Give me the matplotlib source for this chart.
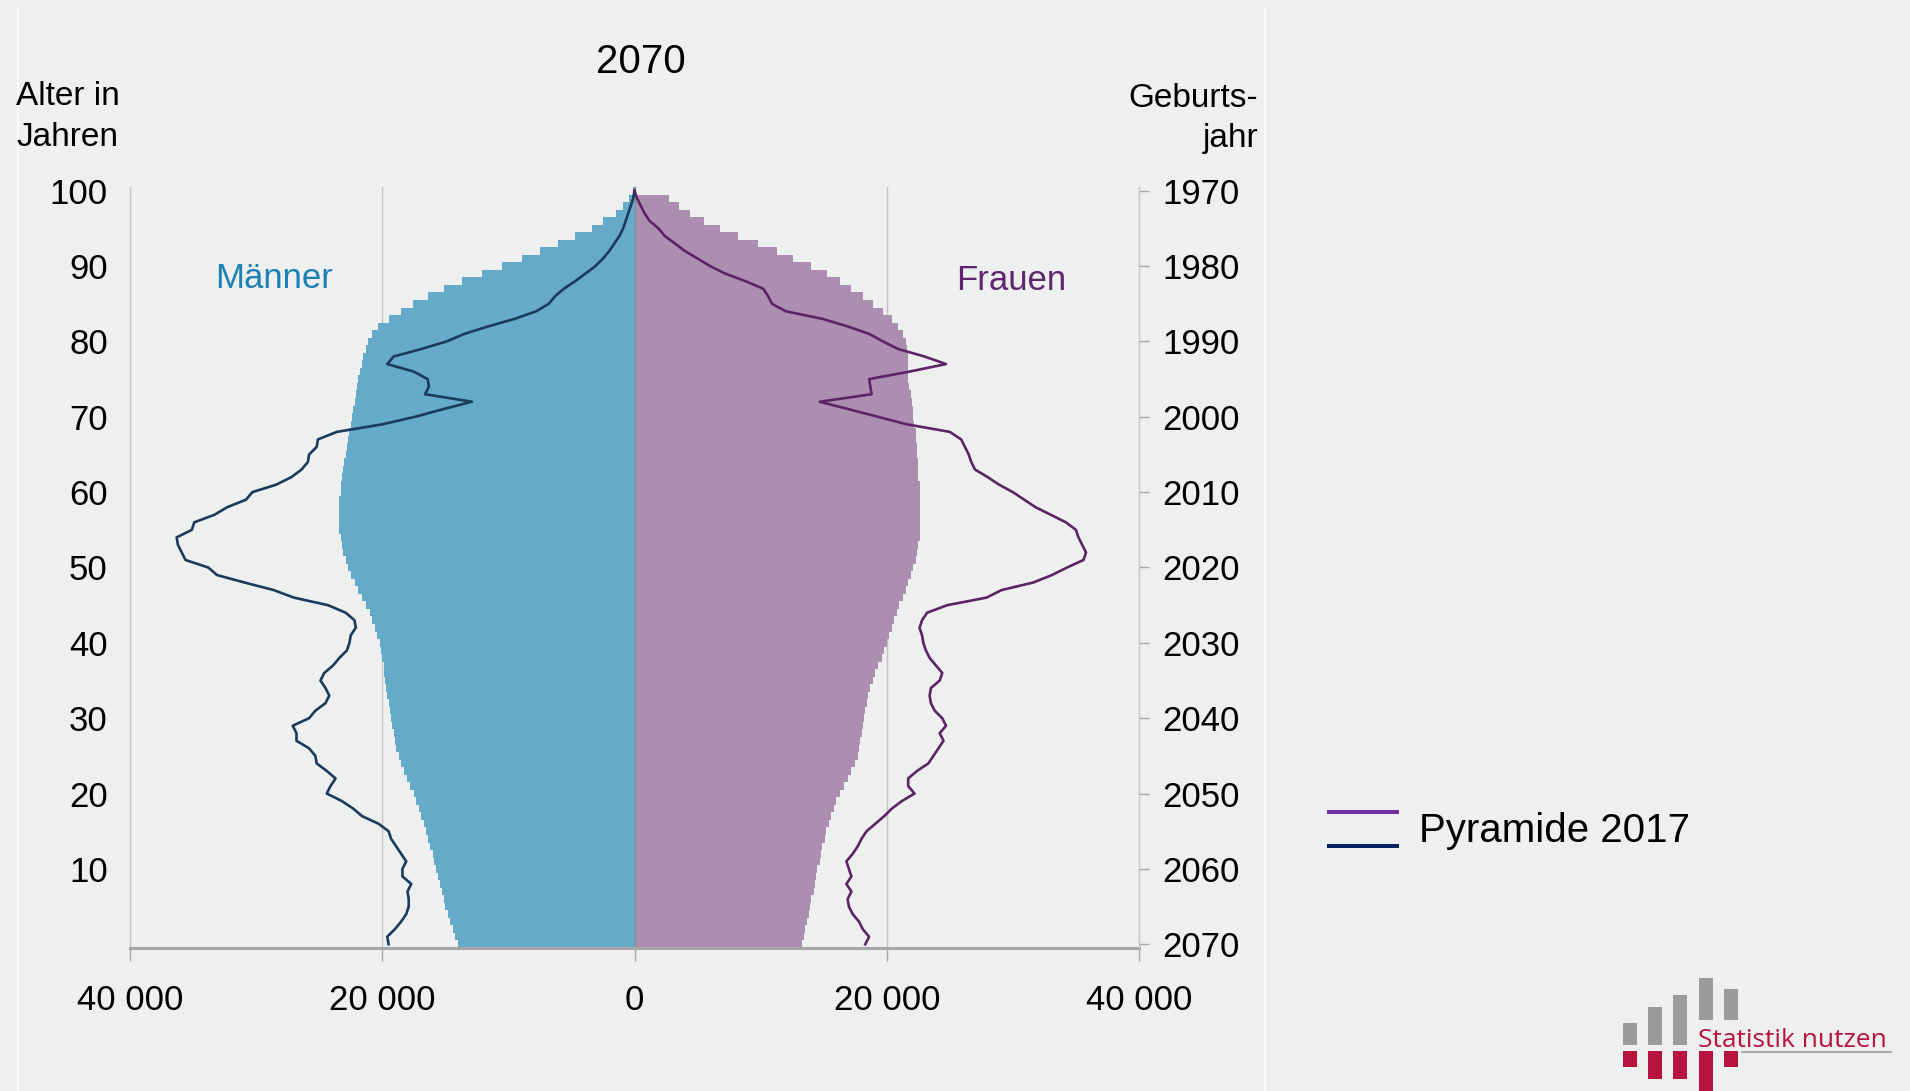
import matplotlib
matplotlib.use('Agg')
import matplotlib.pyplot as plt
from matplotlib.lines import Line2D
from matplotlib.patches import Rectangle

plt.rcParams['font.family'] = ['Liberation Sans', 'DejaVu Sans']

# Alter 0..100
ages = list(range(101))

# Bevoelkerung 2070 (in Tausend)
men_2070 = [14.0, 14.2, 14.4, 14.6, 14.8, 15.0, 15.1, 15.3, 15.4, 15.6,
            15.7, 15.9, 16.0, 16.2, 16.4, 16.5, 16.7, 16.9, 17.1, 17.3,
            17.5, 17.8, 18.0, 18.3, 18.5, 18.7, 18.9, 19.0, 19.1, 19.2,
            19.3, 19.4, 19.5, 19.6, 19.7, 19.8, 19.9, 19.9, 20.0, 20.1,
            20.2, 20.4, 20.6, 20.8, 21.0, 21.3, 21.6, 21.9, 22.2, 22.5,
            22.7, 22.9, 23.1, 23.2, 23.3, 23.4, 23.4, 23.4, 23.4, 23.4,
            23.3, 23.3, 23.2, 23.1, 23.0, 22.9, 22.8, 22.7, 22.6, 22.5,
            22.4, 22.3, 22.2, 22.1, 22.0, 21.9, 21.8, 21.6, 21.5, 21.3,
            21.1, 20.8, 20.3, 19.5, 18.5, 17.6, 16.4, 15.1, 13.7, 12.1,
            10.5, 8.9, 7.5, 6.1, 4.7, 3.4, 2.5, 1.5, 0.9, 0.4,
            0.1]
women_2070 = [13.3, 13.4, 13.5, 13.7, 13.8, 13.9, 14.0, 14.2, 14.3, 14.4,
              14.5, 14.7, 14.8, 14.9, 15.1, 15.2, 15.4, 15.6, 15.8, 16.0,
              16.3, 16.6, 16.9, 17.2, 17.5, 17.7, 17.8, 17.9, 18.0, 18.1,
              18.2, 18.3, 18.4, 18.5, 18.7, 18.9, 19.1, 19.3, 19.6, 19.8,
              20.0, 20.2, 20.4, 20.6, 20.8, 21.0, 21.3, 21.5, 21.7, 21.9,
              22.1, 22.3, 22.4, 22.5, 22.6, 22.6, 22.6, 22.6, 22.6, 22.6,
              22.6, 22.6, 22.5, 22.5, 22.5, 22.4, 22.4, 22.3, 22.3, 22.2,
              22.1, 22.1, 22.0, 21.9, 21.8, 21.7, 21.7, 21.7, 21.7, 21.6,
              21.5, 21.3, 20.9, 20.4, 19.7, 18.9, 18.1, 17.2, 16.3, 15.3,
              14.0, 12.6, 11.3, 9.8, 8.2, 6.8, 5.5, 4.4, 3.5, 2.7,
              0.1]

# Pyramide 2017 (in Tausend)
men_2017 = [19.5, 19.6, 19.0, 18.5, 18.1, 17.9, 17.9, 18.0, 17.7, 18.4,
            18.4, 18.1, 18.5, 18.9, 19.3, 19.5, 20.3, 21.6, 22.3, 23.2,
            24.4, 24.1, 23.7, 24.4, 25.2, 25.3, 25.8, 26.8, 26.8, 27.1,
            25.8, 25.3, 24.5, 24.2, 24.5, 24.9, 24.6, 23.9, 23.4, 22.8,
            22.6, 22.5, 22.1, 22.2, 22.9, 24.3, 27.0, 28.6, 30.9, 33.1,
            33.8, 35.6, 35.9, 36.2, 36.3, 35.1, 34.9, 33.3, 32.3, 30.8,
            30.3, 28.4, 27.2, 26.4, 25.9, 25.8, 25.2, 25.1, 23.6, 20.0,
            17.4, 15.2, 12.9, 16.6, 16.3, 16.4, 17.5, 19.6, 19.1, 16.9,
            14.9, 13.5, 11.6, 9.5, 7.8, 6.8, 6.3, 5.6, 4.7, 3.9,
            3.1, 2.5, 2.0, 1.6, 1.2, 0.9, 0.7, 0.5, 0.3, 0.1,
            0.0]
women_2017 = [18.3, 18.6, 18.1, 17.8, 17.3, 17.0, 16.9, 17.2, 16.8, 17.2,
              17.0, 16.8, 17.3, 17.7, 18.0, 18.4, 19.1, 19.8, 20.4, 21.2,
              22.2, 21.7, 21.7, 22.4, 23.3, 23.7, 24.1, 24.5, 24.2, 24.7,
              24.4, 23.8, 23.5, 23.4, 23.5, 24.2, 24.4, 23.9, 23.4, 23.1,
              22.9, 22.8, 22.6, 22.8, 23.2, 24.8, 27.9, 29.1, 31.6, 33.1,
              34.3, 35.6, 35.8, 35.5, 35.2, 35.0, 34.2, 33.0, 31.8, 30.9,
              30.0, 28.9, 28.0, 27.0, 26.7, 26.5, 26.2, 25.9, 25.0, 21.6,
              19.3, 17.0, 14.7, 18.8, 18.7, 18.6, 21.8, 24.7, 23.0, 20.9,
              19.7, 18.6, 16.9, 14.9, 12.0, 10.9, 10.6, 10.2, 8.8, 7.2,
              6.0, 5.0, 4.0, 3.2, 2.4, 1.9, 1.2, 0.8, 0.5, 0.2,
              0.0]

x_ticks = [-40000, -20000, 0, 20000, 40000]
x_labels = ['40 000', '20 000', '0', '20 000', '40 000']
age_ticks = [10, 20, 30, 40, 50, 60, 70, 80, 90, 100]
year_ticks = [0, 10, 20, 30, 40, 50, 60, 70, 80, 90, 100]
year_labels = [str(2070 - a) for a in year_ticks]

bg = '#EEF0EF'
blue_bar = '#65AAC9'
purple_bar = '#AC8FB0'
blue_line = '#1B3A5C'
purple_line = '#5C2466'

fig = plt.figure(figsize=(19.1, 10.91), dpi=100, facecolor=bg)
ax = fig.add_axes([130 / 1910, 1 - 948 / 1091, (1139 - 130) / 1910, (948 - 187) / 1091])
ax.set_facecolor(bg)

ax.barh(ages, [-v * 1000 for v in men_2070], height=1.0, color=blue_bar,
        linewidth=0, antialiased=False, zorder=2)
ax.barh(ages, [v * 1000 for v in women_2070], height=1.0, color=purple_bar,
        linewidth=0, antialiased=False, zorder=2)
ax.plot([-v * 1000 for v in men_2017], ages, color=blue_line, lw=1.9, zorder=4)
ax.plot([v * 1000 for v in women_2017], ages, color=purple_line, lw=1.9, zorder=4)

ax.axvline(0, color='#8C8C8C', lw=1.0, zorder=3)
for gx in (-20000, 20000):
    ax.axvline(gx, color='#C4C4C4', lw=1.0, zorder=1)

ax.set_xlim(-40000, 40000)
ax.set_ylim(-0.5, 100.5)

ax.set_xticks(x_ticks)
ax.set_xticklabels(x_labels, fontsize=25)
ax.set_yticks(age_ticks)
ax.set_yticklabels([str(a) for a in age_ticks], fontsize=25)
ax.tick_params(axis='x', length=9, width=1, color='#A6A6A6', pad=17)
ax.tick_params(axis='y', length=0, pad=16)

for side in ('top', 'right'):
    ax.spines[side].set_visible(False)
ax.spines['left'].set_color('#C4C4C4')
ax.spines['left'].set_linewidth(1.0)
ax.spines['bottom'].set_color('#A6A6A6')
ax.spines['bottom'].set_linewidth(2.2)
ax.spines['bottom'].set_zorder(5)

ax2 = ax.twinx()
ax2.set_ylim(-0.5, 100.5)
ax2.set_yticks(year_ticks)
ax2.set_yticklabels(year_labels, fontsize=25)
ax2.tick_params(axis='y', length=7, width=1, color='#A6A6A6', pad=10)
for side in ('top', 'left', 'bottom'):
    ax2.spines[side].set_visible(False)
ax2.spines['right'].set_color('#C4C4C4')
ax2.spines['right'].set_linewidth(1.0)

# Texte
def fx(px):
    return px / 1910

def fy(py):
    return 1 - py / 1091

fig.text(fx(641), fy(62), '2070', fontsize=29, ha='center', va='center')
fig.text(fx(16), fy(105), 'Alter in', fontsize=24, ha='left', va='baseline')
fig.text(fx(16), fy(146), 'Jahren', fontsize=24, ha='left', va='baseline')
fig.text(fx(1258), fy(107), 'Geburts-', fontsize=24, ha='right', va='baseline')
fig.text(fx(1258), fy(147), 'jahr', fontsize=24, ha='right', va='baseline')
fig.text(fx(274), fy(279), 'Männer', fontsize=25, color='#1B80B4', ha='center', va='center')
fig.text(fx(1011), fy(280), 'Frauen', fontsize=25, color='#5F2670', ha='center', va='center')

# Legende
fig.add_artist(Line2D([fx(1329), fx(1397)], [fy(812), fy(812)], color='#7030A0', lw=2.9))
fig.add_artist(Line2D([fx(1329), fx(1397)], [fy(846), fy(846)], color='#002060', lw=2.9))
fig.text(fx(1419), fy(842), 'Pyramide 2017', fontsize=29, ha='left', va='baseline')

# Rahmenlinien der Folie
for px in (18, 1265):
    fig.add_artist(Line2D([fx(px), fx(px)], [fy(8), 0], color='#F8F9F9', lw=1.5))

# Logo "Statistik nutzen"
grey_bars = [(1623, 1023, 1045), (1648, 1007, 1045), (1673, 995, 1045),
             (1699, 978, 1020), (1724, 989, 1020)]
red_bars = [(1623, 1051, 1067), (1648, 1051, 1079), (1673, 1051, 1079),
            (1699, 1051, 1092), (1724, 1051, 1067)]
for x0, y0, y1 in grey_bars:
    fig.add_artist(Rectangle((fx(x0), fy(y1)), 14 / 1910, (y1 - y0) / 1091,
                             transform=fig.transFigure, color='#9A9C9C', lw=0))
for x0, y0, y1 in red_bars:
    fig.add_artist(Rectangle((fx(x0), fy(y1)), 14 / 1910, (y1 - y0) / 1091,
                             transform=fig.transFigure, color='#B8123E', lw=0))
fig.add_artist(Line2D([fx(1742), fx(1891)], [fy(1052), fy(1052)], color='#A9ABAB', lw=1.5))
fig.text(fx(1698), fy(1047), 'Statistik nutzen', fontsize=19, color='#B8123E',
         ha='left', va='baseline', family=['Open Sans', 'DejaVu Sans'])

fig.savefig('out.png', dpi=100, facecolor=bg)
